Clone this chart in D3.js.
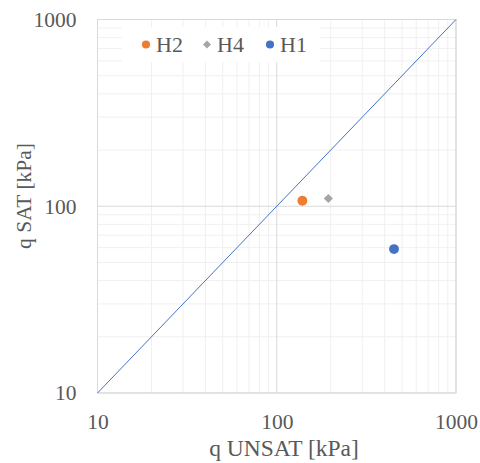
<!DOCTYPE html>
<html><head><meta charset="utf-8">
<script src="https://cdn.jsdelivr.net/npm/d3@7"></script>
<style>body{margin:0;background:#fff}</style>
</head><body>
<script>
const seriesNames = ["H2", "H4", "H1"];
const qUnsat = [139, 194, 451];
const qSat = [107, 110, 59];
const lineX = [10, 1000];
const lineY = [10, 1000];
const tickValues = [10, 100, 1000];
const colors = ["#ed7d31", "#a5a5a5", "#4472c4"];
const shapes = ["circle", "diamond", "circle"];

const W = 480, H = 463;
const m = {l: 97.5, r: 24, t: 19.5, b: 70};
const FONT = '"Liberation Serif", "Times New Roman", Tinos, Times';
const svg = d3.select("body").append("svg").attr("width", W).attr("height", H)
  .style("font-family", FONT);
const x = d3.scaleLog().domain([10, 1000]).range([m.l, W - m.r]);
const y = d3.scaleLog().domain([10, 1000]).range([H - m.b, m.t]);

const minor = [];
for (let d = 10; d < 1000; d *= 10) for (let k = 2; k <= 9; k++) minor.push(d * k);
const g = svg.append("g");
g.selectAll(".mx").data(minor).join("line")
  .attr("x1", d => x(d)).attr("x2", d => x(d)).attr("y1", m.t).attr("y2", H - m.b)
  .attr("stroke", "#f0f0f0").attr("stroke-width", 1);
g.selectAll(".my").data(minor).join("line")
  .attr("y1", d => y(d)).attr("y2", d => y(d)).attr("x1", m.l).attr("x2", W - m.r)
  .attr("stroke", "#f0f0f0").attr("stroke-width", 1);
g.selectAll(".Mx").data(tickValues).join("line")
  .attr("x1", d => x(d)).attr("x2", d => x(d)).attr("y1", m.t).attr("y2", H - m.b)
  .attr("stroke", "#d9d9d9").attr("stroke-width", 1);
g.selectAll(".My").data(tickValues).join("line")
  .attr("y1", d => y(d)).attr("y2", d => y(d)).attr("x1", m.l).attr("x2", W - m.r)
  .attr("stroke", "#d9d9d9").attr("stroke-width", 1);
svg.append("rect").attr("x", m.l).attr("y", m.t).attr("width", W - m.r - m.l).attr("height", H - m.b - m.t)
  .attr("fill", "none").attr("stroke", "#d9d9d9");

svg.append("line").attr("x1", x(lineX[0])).attr("y1", y(lineY[0])).attr("x2", x(lineX[1])).attr("y2", y(lineY[1]))
  .attr("stroke", "#4472c4").attr("stroke-width", 1);

const xa = svg.append("g").attr("transform", `translate(0,${H - m.b})`)
  .call(d3.axisBottom(x).tickValues(tickValues).tickFormat(d3.format("d")).tickSize(0).tickPadding(28));
const ya = svg.append("g").attr("transform", `translate(${m.l},0)`)
  .call(d3.axisLeft(y).tickValues(tickValues).tickFormat(d3.format("d")).tickSize(0).tickPadding(21));
[xa, ya].forEach(a => {
  a.attr("font-family", null).style("font-family", FONT);
  a.select(".domain").remove();
  a.selectAll("text").style("font-family", FONT).style("font-size", "21.5px").attr("fill", "#595959");
});
xa.selectAll("text").attr("dy", "0.35em");

const sym = (s, big) => s === "diamond"
  ? (big ? "M0,-4.6L4.6,0L0,4.6L-4.6,0Z" : "M0,-4L4,0L0,4L-4,0Z")
  : d3.symbol().type(d3.symbolCircle).size(big ? 76 : 52)();
svg.selectAll(".pt").data(qUnsat).join("path")
  .attr("transform", (d, i) => `translate(${x(d)},${y(qSat[i])})`)
  .attr("d", (d, i) => sym(shapes[i], true)).attr("fill", (d, i) => colors[i]);

svg.append("rect").attr("x", 122).attr("y", 27).attr("width", 198).attr("height", 35).attr("fill", "#fff");
const lx = [146, 207, 270];
seriesNames.forEach((n, i) => {
  svg.append("path").attr("transform", `translate(${lx[i]},44.5)`).attr("d", sym(shapes[i], false)).attr("fill", colors[i]);
  svg.append("text").attr("x", lx[i] + 10).attr("y", 44.5).attr("dy", "0.35em")
    .style("font-family", FONT).style("font-size", "22px").attr("fill", "#595959").text(n);
});

svg.append("text").attr("x", 284).attr("y", 448).attr("dy", "0.35em").attr("text-anchor", "middle")
  .style("font-family", FONT).style("font-size", "23.5px").attr("fill", "#595959").text("q UNSAT [kPa]");
svg.append("text").attr("transform", "translate(23,196) rotate(-90)").attr("dy", "0.35em").attr("text-anchor", "middle")
  .style("font-family", FONT).style("font-size", "21.5px").attr("fill", "#595959").text("q SAT [kPa]");
</script>
</body></html>
